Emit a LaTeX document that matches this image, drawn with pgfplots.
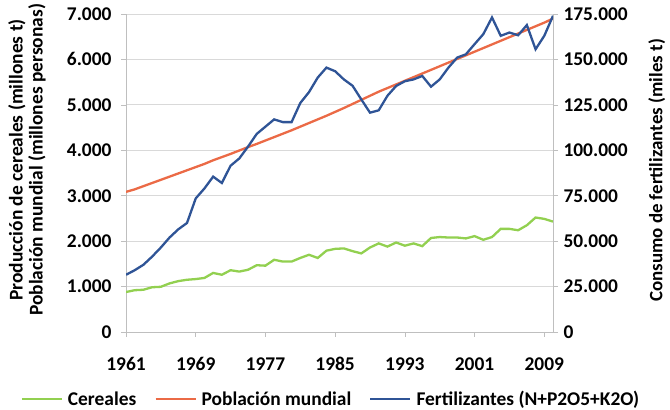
\documentclass[border=0pt]{standalone}
\usepackage{pgfplots}
\usepackage{pgfplotstable}
\pgfplotsset{compat=1.18}
\usepackage{fontspec}
\setmainfont{Carlito}
\definecolor{cgreen}{RGB}{146,208,80}
\definecolor{cred}{RGB}{235,106,70}
\definecolor{cblue}{RGB}{47,84,150}
\definecolor{gridgray}{RGB}{217,217,217}
\definecolor{axgray}{RGB}{191,191,191}
\pgfplotstableread{
year cer pop fert
1961 880 3085 31500
1962 920 3140 34000
1963 930 3210 37000
1964 985 3280 41500
1965 995 3350 46500
1966 1070 3420 52000
1967 1120 3490 56500
1968 1150 3560 60000
1969 1165 3630 73500
1970 1190 3700 79000
1971 1300 3780 85500
1972 1260 3850 82000
1973 1360 3920 91500
1974 1330 3995 95500
1975 1370 4070 102000
1976 1470 4140 109000
1977 1460 4215 113000
1978 1590 4290 117000
1979 1550 4365 115500
1980 1550 4440 115500
1981 1630 4520 126000
1982 1700 4600 132000
1983 1630 4680 140000
1984 1790 4760 145500
1985 1830 4845 143500
1986 1840 4930 139000
1987 1780 5020 135500
1988 1730 5110 128000
1989 1860 5200 120700
1990 1950 5290 122000
1991 1880 5370 130000
1992 1970 5450 135400
1993 1900 5530 138000
1994 1950 5610 139000
1995 1890 5690 140900
1996 2070 5770 135000
1997 2090 5850 139000
1998 2080 5930 145500
1999 2080 6010 151000
2000 2060 6090 152800
2001 2110 6170 158400
2002 2030 6250 163900
2003 2090 6330 173100
2004 2270 6410 163000
2005 2270 6490 164800
2006 2240 6570 163300
2007 2350 6650 168900
2008 2520 6730 155600
2009 2490 6810 163000
2010 2430 6900 174000
}\datatable
\begin{document}
\begin{tikzpicture}
\pgfplotsset{
  every axis/.append style={
    scale only axis, width=427bp, height=318bp,
    at={(126bp,78bp)}, anchor=south west,
    xmin=1961, xmax=2010,
    tick align=outside, major tick length=5bp,
    tick style={axgray, line width=0.6pt},
    axis line style={axgray, line width=0.8pt},
    tick label style={font=\fontsize{19.5}{22}\selectfont\bfseries},
    label style={font=\fontsize{19.5}{20}\selectfont\bfseries},
    /pgf/number format/assume math mode=true,
  }
}
\begin{axis}[
  axis x line*=bottom, axis y line*=left,
  ymin=0, ymax=7000, ytick={0,1000,...,7000},
  xtick={1961,1969,...,2009},
  xticklabel style={/pgf/number format/fixed, /pgf/number format/1000 sep={}, yshift=-17bp},
  yticklabel style={/pgf/number format/fixed, /pgf/number format/1000 sep={.}, xshift=-6bp},
  ymajorgrids, grid style={gridgray, line width=0.8pt},
  ylabel={Producción de cereales (millones t)\\Población mundial (millones personas)},
  ylabel style={align=center, at={(axis description cs:-0.232,0.541)}, anchor=center},
]
\addplot[cgreen, line width=2.3bp] table[x=year, y=cer] {\datatable};
\addplot[cred, line width=2.3bp] table[x=year, y=pop] {\datatable};
\end{axis}
\begin{axis}[
  axis x line=none, axis y line*=right,
  ymin=0, ymax=175000, ytick={0,25000,...,175000},
  scaled y ticks=false,
  yticklabel style={/pgf/number format/fixed, /pgf/number format/1000 sep={.}, xshift=2bp},
  ylabel={Consumo de fertilizantes (miles t)},
  ylabel style={at={(axis description cs:1.243,0.508)}, anchor=center, font=\fontsize{19}{20}\selectfont\bfseries},
  legend columns=3,
  legend style={draw=none, fill=none, at={(axis description cs:0.48,-0.211)}, anchor=center,
    font=\fontsize{19.5}{22}\selectfont\bfseries, column sep=3bp,
    /tikz/every even column/.append style={column sep=16bp}},
  legend image code/.code={\draw[#1, line width=2.3bp] (0bp,0bp) -- (40bp,0bp);},
]
\addlegendimage{cgreen}
\addlegendentry{Cereales}
\addlegendimage{cred}
\addlegendentry{Población mundial}
\addplot[cblue, line width=2.3bp] table[x=year, y=fert] {\datatable};
\addlegendentry{Fertilizantes (N+P2O5+K2O)}
\end{axis}
\pgfresetboundingbox
\path[use as bounding box] (0,0) rectangle (670bp,410bp);
\end{tikzpicture}
\end{document}
